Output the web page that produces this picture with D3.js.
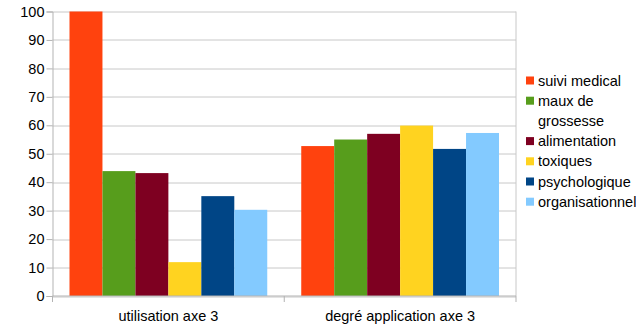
<!DOCTYPE html>
<html>
<head>
<meta charset="utf-8">
<script src="https://cdn.jsdelivr.net/npm/d3@7"></script>
<style>
  body { margin: 0; background: #fff; }
  svg { display: block; }
  svg text { font-family: "Liberation Sans", Arial, sans-serif; }
</style>
</head>
<body>
<div id="chart"></div>
<script>
// chart data
var categories = ["utilisation axe 3", "degré application axe 3"];
var seriesNames = ["suivi medical", "maux de grossesse", "alimentation", "toxiques", "psychologique", "organisationnel"];
var suiviMedical = [100, 52.7];
var mauxGrossesse = [43.9, 55.0];
var alimentation = [43.2, 57.0];
var toxiques = [11.9, 59.9];
var psychologique = [35.1, 51.7];
var organisationnel = [30.3, 57.3];
var yTicks = [0, 10, 20, 30, 40, 50, 60, 70, 80, 90, 100];
var colors = ["#ff420e", "#579d1c", "#7e0021", "#ffd320", "#004586", "#83caff"];

var allSeries = [suiviMedical, mauxGrossesse, alimentation, toxiques, psychologique, organisationnel];

var width = 636, height = 328;
var margin = {top: 11.5, right: 120, bottom: 32, left: 52.5};
var plotW = 516 - margin.left,
    plotH = 296 - margin.top;
var fontSize = "14.5px";

var svg = d3.select("#chart").append("svg")
    .attr("width", width)
    .attr("height", height);

var g = svg.append("g")
    .attr("transform", "translate(" + margin.left + "," + margin.top + ")");

var x0 = d3.scaleBand().domain(categories).range([0, plotW]).paddingInner(0).paddingOuter(0);
var x1 = d3.scaleBand().domain(d3.range(seriesNames.length))
    .range([17, x0.bandwidth() - 17]).padding(0);
var y = d3.scaleLinear().domain([0, 100]).range([plotH, 0]);

// gridlines
g.append("g")
    .selectAll("line")
    .data(yTicks)
    .enter().append("line")
    .attr("x1", 0).attr("x2", plotW)
    .attr("y1", function(d) { return Math.round(y(d)) + 0.5; })
    .attr("y2", function(d) { return Math.round(y(d)) + 0.5; })
    .attr("stroke", "#c8c8c8");

// right border
g.append("line")
    .attr("x1", plotW).attr("x2", plotW)
    .attr("y1", 0).attr("y2", plotH)
    .attr("stroke", "#c8c8c8");

// bars
var groups = g.selectAll(".grp")
    .data(categories)
    .enter().append("g")
    .attr("transform", function(d) { return "translate(" + x0(d) + ",0)"; });

groups.selectAll("rect")
    .data(function(d, ci) { return allSeries.map(function(s, si) { return {si: si, v: s[ci]}; }); })
    .enter().append("rect")
    .attr("x", function(d) { return x1(d.si); })
    .attr("width", x1.bandwidth())
    .attr("y", function(d) { return y(d.v); })
    .attr("height", function(d) { return plotH - y(d.v); })
    .attr("fill", function(d) { return colors[d.si]; });

// y axis
var yAxis = g.append("g")
    .call(d3.axisLeft(y).tickValues(yTicks).tickSize(6).tickPadding(2));
yAxis.attr("font-family", null).attr("font-size", null);
yAxis.select(".domain").attr("stroke", "#b3b3b3");
yAxis.selectAll(".tick line").attr("stroke", "#b3b3b3");
yAxis.selectAll("text").attr("font-size", fontSize).attr("fill", "#000");

// x axis
var xAxisG = g.append("g").attr("transform", "translate(0," + plotH + ")");
xAxisG.append("line").attr("x1", 0).attr("x2", plotW).attr("stroke", "#b3b3b3");
xAxisG.selectAll(".tk")
    .data([0, x0.bandwidth(), plotW])
    .enter().append("line")
    .attr("x1", function(d) { return d; }).attr("x2", function(d) { return d; })
    .attr("y1", 0).attr("y2", 6)
    .attr("stroke", "#b3b3b3");
xAxisG.selectAll(".lbl")
    .data(categories)
    .enter().append("text")
    .attr("x", function(d) { return x0(d) + x0.bandwidth() / 2; })
    .attr("y", 20)
    .attr("dy", "0.35em")
    .attr("text-anchor", "middle")
    .attr("font-size", fontSize)
    .text(function(d) { return d; });

// legend
var legendRows = [
  {c: 0, lines: ["suivi medical"]},
  {c: 1, lines: ["maux de", "grossesse"]},
  {c: 2, lines: ["alimentation"]},
  {c: 3, lines: ["toxiques"]},
  {c: 4, lines: ["psychologique"]},
  {c: 5, lines: ["organisationnel"]}
];
var legend = svg.append("g").attr("transform", "translate(526,0)");
var ly = 80.5;
legendRows.forEach(function(r) {
  legend.append("rect")
    .attr("x", 0).attr("y", ly - 4)
    .attr("width", 8).attr("height", 8)
    .attr("fill", colors[r.c]);
  r.lines.forEach(function(t, i) {
    legend.append("text")
      .attr("x", 12).attr("y", ly + i * 20.2)
      .attr("dy", "0.35em")
      .attr("font-size", fontSize)
      .text(t);
  });
  ly += r.lines.length * 20.2;
});
</script>
</body>
</html>
